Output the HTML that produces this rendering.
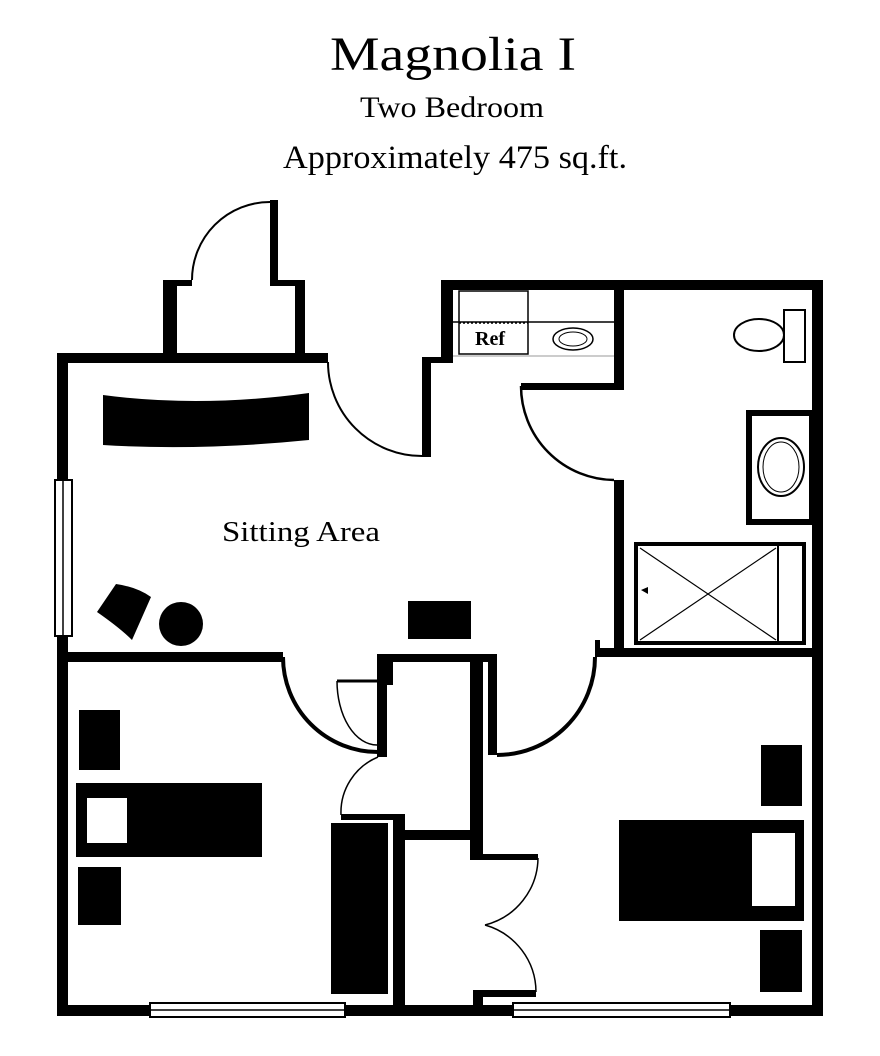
<!DOCTYPE html>
<html><head><meta charset="utf-8"><style>html,body{margin:0;padding:0;background:#fff;}svg{display:block}</style></head>
<body>
<svg width="880" height="1056" viewBox="0 0 880 1056" xmlns="http://www.w3.org/2000/svg" font-family="Liberation Serif, serif">
<rect width="880" height="1056" fill="#fff"/>
<text x="330" y="70" font-size="48" textLength="246" lengthAdjust="spacingAndGlyphs">Magnolia I</text>
<text x="360" y="117" font-size="30" textLength="184" lengthAdjust="spacingAndGlyphs">Two Bedroom</text>
<text x="283" y="168" font-size="33" textLength="344" lengthAdjust="spacingAndGlyphs">Approximately 475 sq.ft.</text>
<text x="222" y="541" font-size="28" textLength="158" lengthAdjust="spacingAndGlyphs">Sitting Area</text>
<g fill="#000">
<rect x="57" y="353" width="11" height="663"/>
<rect x="57" y="1005" width="766" height="11"/>
<rect x="812" y="280" width="11" height="736"/>
<rect x="441" y="280" width="382" height="10"/>
<rect x="441" y="280" width="12" height="83"/>
<rect x="422" y="357" width="31" height="6"/>
<rect x="422" y="357" width="9" height="100"/>
<rect x="57" y="353" width="271" height="10"/>
<rect x="163" y="280" width="14" height="80"/>
<rect x="163" y="280" width="29" height="6"/>
<rect x="270" y="200" width="8" height="86"/>
<rect x="270" y="280" width="35" height="6"/>
<rect x="295" y="280" width="10" height="80"/>
<rect x="614" y="280" width="10" height="110"/>
<rect x="521" y="383" width="103" height="7"/>
<rect x="614" y="480" width="10" height="177"/>
<rect x="595" y="648" width="228" height="9"/>
<rect x="595" y="640" width="5" height="17"/>
<rect x="57" y="652" width="226" height="10"/>
<rect x="377" y="654" width="120" height="8"/>
<rect x="377" y="654" width="10" height="103"/>
<rect x="387" y="654" width="6" height="31"/>
<rect x="470" y="654" width="13" height="206"/>
<rect x="488" y="654" width="9" height="101"/>
<rect x="341" y="814" width="64" height="6"/>
<rect x="393" y="814" width="12" height="196"/>
<rect x="405" y="830" width="65" height="10"/>
<rect x="470" y="854" width="68" height="6"/>
<rect x="473" y="990" width="63" height="7"/>
<rect x="473" y="990" width="10" height="20"/>
<rect x="331" y="823" width="57" height="171"/>
<rect x="79" y="710" width="41" height="60"/>
<rect x="76" y="783" width="186" height="74"/>
<rect x="78" y="867" width="43" height="58"/>
<rect x="761" y="745" width="41" height="61"/>
<rect x="760" y="930" width="42" height="62"/>
<rect x="619" y="820" width="185" height="101"/>
<rect x="408" y="601" width="63" height="38"/>
<circle cx="181" cy="624" r="22"/>
<path d="M116,584 Q137,587 151,597 L132,640 Q120,628 97,612 Z"/>
<path d="M103,395 Q200,408 309,393 L309,440 Q200,451 103,445 Z"/>
</g>
<rect x="87" y="798" width="40" height="45" fill="#fff"/>
<rect x="752" y="833" width="43" height="73" fill="#fff"/>
<g fill="#fff" stroke="#000" stroke-width="2">
<rect x="55" y="480" width="17" height="156"/>
<rect x="150" y="1003" width="195" height="14"/>
<rect x="513" y="1003" width="217" height="14"/>
</g>
<g stroke="#000" stroke-width="1.5"><line x1="63" y1="480" x2="63" y2="636"/><line x1="150" y1="1010" x2="345" y2="1010"/><line x1="513" y1="1010" x2="730" y2="1010"/></g>
<g fill="none" stroke="#000">
<path d="M192,280 A78,78 0 0 1 270,202" stroke-width="2"/>
<path d="M328,362 A94,94 0 0 0 422,456" stroke-width="2"/>
<path d="M521,386 A94,94 0 0 0 614,480" stroke-width="2.5"/>
<path d="M283,657 A95,95 0 0 0 378,752" stroke-width="4"/>
<path d="M497,755 A98,98 0 0 0 595,657" stroke-width="4"/>
<path d="M337,681 L377,681" stroke-width="3"/>
<path d="M337,681 A40,64 0 0 0 377,745" stroke-width="1.5"/>
<path d="M378,757 A60,60 0 0 0 341,815" stroke-width="1.5"/>
<path d="M538,858 A70,70 0 0 1 485,925" stroke-width="1.5"/>
<path d="M485,925 A70,70 0 0 1 536,992" stroke-width="1.5"/>
</g>
<line x1="453" y1="322" x2="614" y2="322" stroke="#000" stroke-width="1.5"/>
<line x1="453" y1="356" x2="614" y2="356" stroke="#999" stroke-width="1"/>
<rect x="459" y="291" width="69" height="63" fill="none" stroke="#000" stroke-width="1.5"/>
<line x1="459" y1="323" x2="528" y2="323" stroke="#000" stroke-width="1.5" stroke-dasharray="2,2"/>
<text x="475" y="345" font-size="20" font-weight="bold">Ref</text>
<ellipse cx="573" cy="339" rx="20" ry="11" fill="none" stroke="#000" stroke-width="1.5"/>
<ellipse cx="573" cy="339" rx="14" ry="7" fill="none" stroke="#000" stroke-width="1"/>
<ellipse cx="759" cy="335" rx="25" ry="16" fill="none" stroke="#000" stroke-width="2"/>
<rect x="784" y="310" width="21" height="52" fill="#fff" stroke="#000" stroke-width="2"/>
<rect x="749" y="413" width="63" height="109" fill="none" stroke="#000" stroke-width="6"/>
<ellipse cx="781" cy="467" rx="23" ry="29" fill="none" stroke="#000" stroke-width="2"/>
<ellipse cx="781" cy="467" rx="18" ry="25" fill="none" stroke="#000" stroke-width="1"/>
<rect x="636" y="544" width="168" height="99" fill="none" stroke="#000" stroke-width="4"/>
<line x1="778" y1="544" x2="778" y2="643" stroke="#000" stroke-width="2"/>
<line x1="640" y1="548" x2="776" y2="640" stroke="#000" stroke-width="1.2"/>
<line x1="640" y1="640" x2="776" y2="548" stroke="#000" stroke-width="1.2"/>
<path d="M641,590 L648,587 L648,594 Z" fill="#000"/>
</svg>
</body></html>
